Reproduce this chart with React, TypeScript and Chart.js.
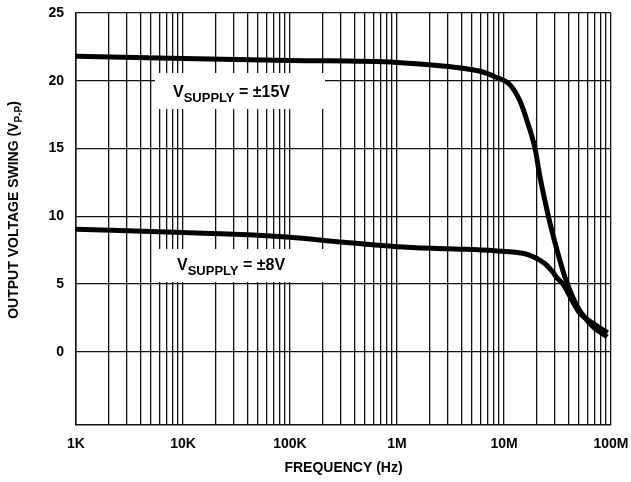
import React, { useEffect, useRef } from "react";
import { Chart, registerables } from "chart.js";

Chart.register(...registerables);

const supply15Freq = [1e3, 1e4, 1e5, 1e6, 3e6, 6e6, 8.2e6, 1.14e7, 1.41e7, 1.68e7, 1.95e7, 2.17e7, 2.42e7, 2.69e7, 3.13e7, 3.72e7, 4.8e7, 6.5e7, 9.2e7];
const supply15Vpp = [21.8, 21.65, 21.5, 21.35, 21.05, 20.7, 20.3, 19.7, 18.5, 16.8, 15.0, 12.9, 11.1, 9.5, 7.5, 5.5, 3.4, 2.0, 1.09];

const supply8Freq = [1e3, 1e4, 5e4, 1e5, 3e5, 1e6, 3e6, 8.2e6, 1.57e7, 1.9e7, 2.42e7, 2.85e7, 3.13e7, 3.55e7, 5e7, 6.8e7, 9.3e7];
const supply8Vpp = [9.05, 8.8, 8.6, 8.45, 8.1, 7.76, 7.6, 7.46, 7.24, 7.0, 6.5, 5.9, 5.45, 5.0, 2.95, 2.1, 1.4];

const yTicks = [0, 5, 10, 15, 20, 25];
const decadeLabels: Record<number, string> = { 1e3: "1K", 1e4: "10K", 1e5: "100K", 1e6: "1M", 1e7: "10M", 1e8: "100M" };

const FONT = "'Liberation Sans', Arial, sans-serif";

function toPoints(xs: number[], ys: number[]) {
  return xs.map((x, i) => ({ x, y: ys[i] }));
}

const labelPlugin = {
  id: "labels",
  beforeDatasetsDraw(chart: any) {
    const ctx = chart.ctx as CanvasRenderingContext2D;
    const boxes = [
      { x0: 155, x1: 325, y0: 73, y1: 109, tx: 173, base: 97, tail: " = \u00B115V" },
      { x0: 155, x1: 330, y0: 249, y1: 282, tx: 177, base: 270, tail: " = \u00B18V" },
    ];
    ctx.save();
    for (const b of boxes) {
      ctx.fillStyle = "#fff";
      ctx.fillRect(b.x0, b.y0, b.x1 - b.x0, b.y1 - b.y0);
      ctx.fillStyle = "#000";
      ctx.textBaseline = "alphabetic";
      ctx.textAlign = "left";
      let x = b.tx;
      ctx.font = `bold 16px ${FONT}`;
      ctx.fillText("V", x, b.base);
      x += ctx.measureText("V").width;
      ctx.font = `bold 13px ${FONT}`;
      ctx.fillText("SUPPLY", x, b.base + 5);
      x += ctx.measureText("SUPPLY").width;
      ctx.font = `bold 16px ${FONT}`;
      ctx.fillText(b.tail, x, b.base);
    }
    ctx.restore();
  },
  afterDraw(chart: any) {
    const ctx = chart.ctx as CanvasRenderingContext2D;
    ctx.save();
    ctx.fillStyle = "#000";
    const parts = [
      { t: "OUTPUT VOLTAGE SWING (V", f: `bold 14px ${FONT}`, dy: 0 },
      { t: "P-P", f: `bold 10px ${FONT}`, dy: 4 },
      { t: ")", f: `bold 14px ${FONT}`, dy: 0 },
    ];
    let total = 0;
    for (const p of parts) {
      ctx.font = p.f;
      total += ctx.measureText(p.t).width;
    }
    ctx.translate(18, 210);
    ctx.rotate(-Math.PI / 2);
    ctx.textBaseline = "alphabetic";
    ctx.textAlign = "left";
    let x = -total / 2;
    for (const p of parts) {
      ctx.font = p.f;
      ctx.fillText(p.t, x, p.dy);
      x += ctx.measureText(p.t).width;
    }
    ctx.restore();
  },
};

export default function App() {
  const ref = useRef<HTMLCanvasElement | null>(null);
  useEffect(() => {
    if (!ref.current) return;
    const chart = new Chart(ref.current, {
      type: "line",
      data: {
        datasets: [
          {
            label: "VSUPPLY = ±15V",
            data: toPoints(supply15Freq, supply15Vpp),
            borderColor: "#000",
            borderWidth: 5,
            pointRadius: 0,
            cubicInterpolationMode: "monotone",
            fill: false,
          },
          {
            label: "VSUPPLY = ±8V",
            data: toPoints(supply8Freq, supply8Vpp),
            borderColor: "#000",
            borderWidth: 5,
            pointRadius: 0,
            cubicInterpolationMode: "monotone",
            fill: false,
          },
        ],
      },
      options: {
        animation: false,
        responsive: false,
        maintainAspectRatio: false,
        layout: { padding: { top: 13, right: 20, left: 0, bottom: 0 } },
        plugins: { legend: { display: false }, tooltip: { enabled: false } },
        scales: {
          x: {
            type: "logarithmic",
            min: 1e3,
            max: 1e8,
            afterBuildTicks(scale: any) {
              const t: { value: number }[] = [];
              for (let d = 1e3; d < 1e8; d *= 10) {
                for (let m = 1; m <= 9; m++) t.push({ value: d * m });
              }
              t.push({ value: 1e8 });
              scale.ticks = t;
            },
            afterFit(scale: any) {
              scale.height = 57;
              scale.paddingRight = 0;
              scale.paddingLeft = 0;
            },
            grid: { color: "#111", lineWidth: 1.3, drawTicks: false },
            border: { color: "#111", width: 1.5 },
            ticks: {
              autoSkip: false,
              maxRotation: 0,
              padding: 11,
              color: "#000",
              font: { family: FONT, weight: "bold", size: 14 },
              callback: (v: any) => {
                const n = Number(v);
                for (const k of Object.keys(decadeLabels)) {
                  if (Math.abs(Number(k) - n) / n < 1e-6) return decadeLabels[Number(k)];
                }
                return "";
              },
            },
            title: {
              display: true,
              text: "FREQUENCY (Hz)",
              color: "#000",
              font: { family: FONT, weight: "bold", size: 14 },
              padding: { top: 0, bottom: 5 },
            },
          },
          y: {
            type: "linear",
            min: -5.4,
            max: 25,
            afterBuildTicks(scale: any) {
              scale.ticks = yTicks.map((v) => ({ value: v }));
            },
            afterFit(scale: any) {
              scale.width = 76;
              scale.paddingTop = 0;
              scale.paddingBottom = 0;
            },
            grid: { color: "#111", lineWidth: 1.3, drawTicks: false },
            border: { color: "#111", width: 1.5 },
            ticks: {
              padding: 12,
              color: "#000",
              font: { family: FONT, weight: "bold", size: 14 },
            },
          },
        },
      },
      plugins: [labelPlugin],
    } as any);
    return () => chart.destroy();
  }, []);
  return (
    <div style={{ position: "fixed", left: 0, top: 0, width: 631, height: 482, background: "#fff" }}>
      <canvas ref={ref} width={631} height={482} style={{ width: 631, height: 482 }} />
    </div>
  );
}
